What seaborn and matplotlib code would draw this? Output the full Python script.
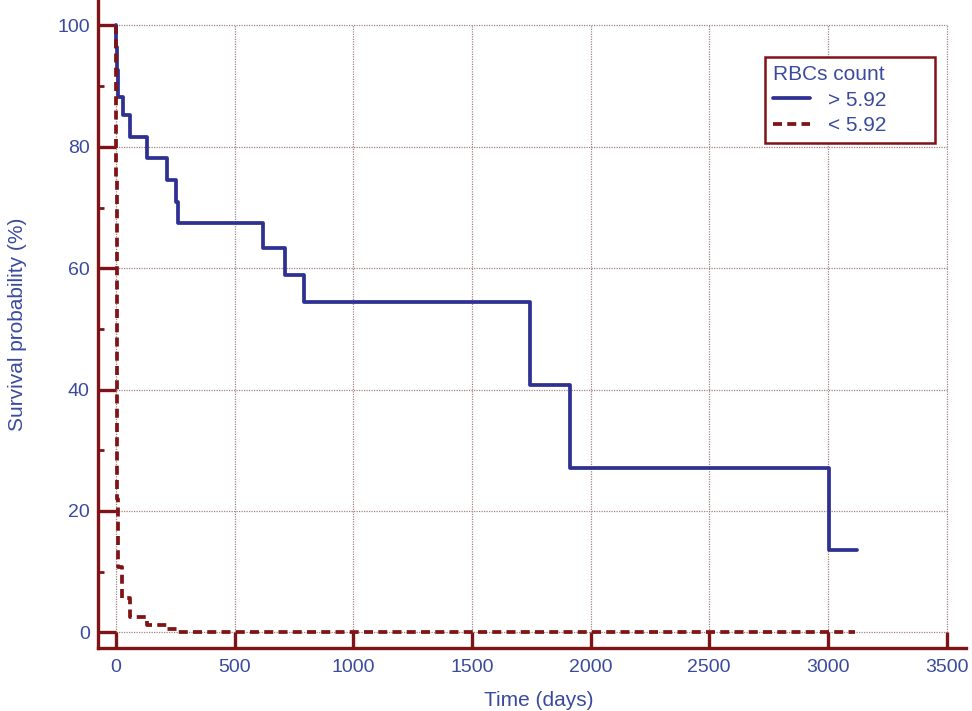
import matplotlib
matplotlib.use("Agg")
import matplotlib.pyplot as plt
import numpy as np
import pandas as pd
import seaborn as sns

# Kaplan-Meier curves
time_high = [0, 2, 5, 10, 30, 59, 129, 213, 253, 262, 621, 712, 792, 1745, 1913, 3004, 3122]
surv_high = [100, 96.4, 92.6, 88.2, 85.2, 81.6, 78.1, 74.5, 70.9, 67.5, 63.3, 58.8, 54.4, 40.7, 27.1, 13.6, 13.6]
time_low = [0, 1, 3, 5, 8, 24, 59, 129, 213, 262, 3114]
surv_low = [100, 75, 45, 22, 10.8, 5.6, 2.5, 1.2, 0.5, 0, 0]
groups = ["> 5.92", "< 5.92"]

blue = "#2E3192"
red = "#7E1416"
text_blue = "#3A4A9E"

df = pd.concat([
    pd.DataFrame({"time": time_high, "surv": surv_high, "group": groups[0]}),
    pd.DataFrame({"time": time_low, "surv": surv_low, "group": groups[1]}),
])

sns.set_style("white")
plt.rcParams['font.family'] = ['Liberation Sans', 'DejaVu Sans']

fig = plt.figure(figsize=(9.72, 7.11), dpi=100)
ax = fig.add_axes([0.1008, 0.0886, 0.893, 0.9114])

sns.lineplot(data=df, x="time", y="surv", hue="group", style="group",
             palette={groups[0]: blue, groups[1]: red},
             dashes={groups[0]: "", groups[1]: (2.4, 1.4)},
             drawstyle="steps-post", estimator=None, sort=False,
             linewidth=2.7, ax=ax)

ax.set_xlim(-76, 3582)
ax.set_ylim(-2.6, 104.2)
ax.set_xticks(np.arange(0, 3501, 500))
ax.set_yticks(np.arange(0, 101, 20))
ax.set_yticks(np.arange(10, 100, 20), minor=True)

# dotted grid limited to data range
for xv in np.arange(0, 3501, 500):
    ax.plot([xv, xv], [0, 100], ls=(0, (1, 1)), color="#A08585", lw=0.9, zorder=0)
for yv in np.arange(0, 101, 20):
    ax.plot([0, 3500], [yv, yv], ls=(0, (1, 1)), color="#A08585", lw=0.9, zorder=0)

for side in ["top", "right"]:
    ax.spines[side].set_visible(False)
for side in ["left", "bottom"]:
    ax.spines[side].set_color(red)
    ax.spines[side].set_linewidth(2.4)

ax.tick_params(axis="both", which="both", bottom=True, left=True, top=False, right=False)
ax.tick_params(axis="both", which="major", direction="in", color=red, width=2.4,
               labelcolor=text_blue, labelsize=14)
ax.tick_params(axis="y", which="major", length=13, pad=6)
ax.tick_params(axis="x", which="major", length=11.5, pad=8)
ax.tick_params(axis="y", which="minor", direction="in", length=4, width=2.0, color=red)
ax.tick_params(axis="x", which="minor", length=0)

ax.set_xlabel("Time (days)", color=text_blue, fontsize=15)
ax.set_ylabel("Survival probability (%)", color=text_blue, fontsize=15)
ax.xaxis.set_label_coords(0.508, -0.066)
ax.yaxis.set_label_coords(-0.082, 0.5)

handles, labels = ax.get_legend_handles_labels()
leg = ax.legend(handles, labels, title="RBCs count", loc="upper left",
                bbox_to_anchor=(0.768, 0.912 - 0.139, 0.196, 0.139), mode="expand",
                borderaxespad=0, fontsize=15, title_fontsize=15,
                frameon=True, fancybox=False, handlelength=1.8, handletextpad=0.85,
                borderpad=0.4, labelspacing=0.3, alignment="left", labelcolor=text_blue)
leg.get_title().set_color(text_blue)
leg.get_frame().set_edgecolor(red)
leg.get_frame().set_linewidth(1.8)
leg.get_frame().set_alpha(1)

fig.savefig("out.png", dpi=100)
